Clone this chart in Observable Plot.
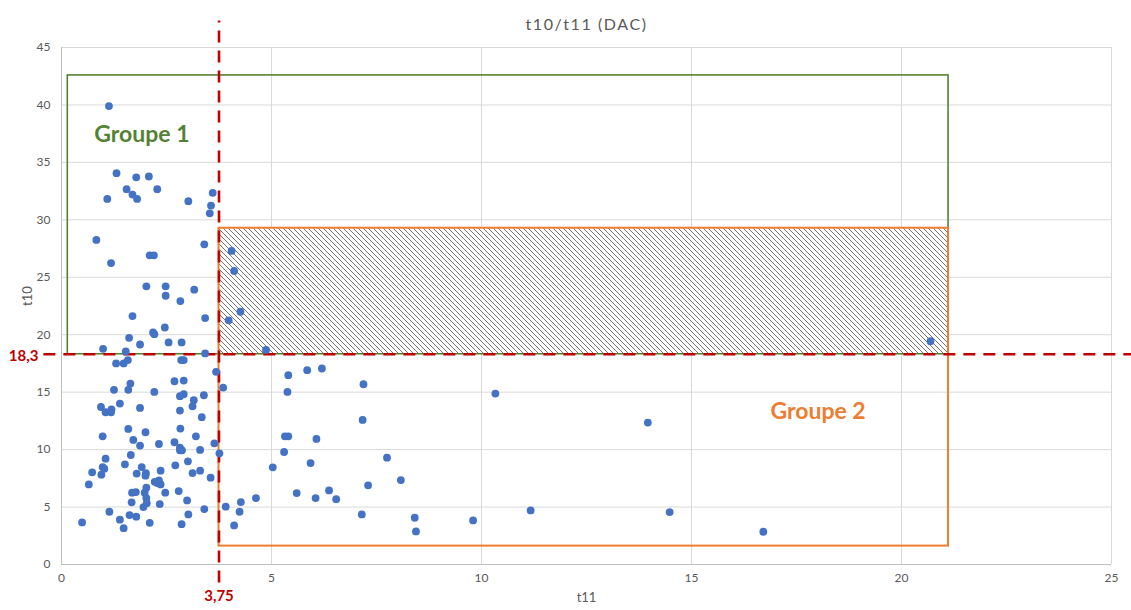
<!DOCTYPE html>
<html><head><meta charset="utf-8">
<script src="https://cdn.jsdelivr.net/npm/d3@7"></script>
<script src="https://cdn.jsdelivr.net/npm/@observablehq/plot@0.6"></script>
<style>html,body{margin:0;padding:0;background:#fff}svg{display:block}</style>
</head><body><div id="chart"></div>
<script>
// t11 (x) and t10 (y) values
const t11 = [
 1.13,1.31,1.78,2.08,1.55,2.28,1.69,1.80,1.09,3.02,3.60,3.56,3.53,0.83,3.40,2.10,2.20,1.18,4.05,4.11,
 2.02,2.48,2.48,3.16,2.83,1.69,3.42,4.26,3.98,2.18,2.21,2.46,1.61,1.87,2.55,2.86,0.99,1.53,3.42,1.30,
 1.48,1.58,2.85,2.91,3.68,3.85,1.64,1.59,1.25,2.21,2.69,2.91,2.82,2.91,3.39,3.15,3.12,2.82,3.34,1.39,
 0.94,1.05,1.18,1.19,1.87,
 1.59,2.00,0.98,2.83,3.20,1.71,1.87,2.32,2.69,2.82,2.87,2.82,3.64,3.30,3.76,1.65,1.05,3.01,1.51,2.71,
 1.91,0.98,1.02,0.73,0.95,1.79,2.01,2.00,2.36,3.12,3.30,3.55,0.65,2.22,2.32,2.36,2.28,2.02,1.98,1.68,
 1.77,2.47,2.79,2.02,1.67,2.99,2.03,1.95,2.34,1.14,3.40,1.62,1.78,3.02,1.39,0.49,1.48,2.10,2.86,3.91,
 4.27,4.24,4.11,
 4.87,5.40,5.85,6.20,
 5.38,7.19,10.33,7.17,5.32,5.40,6.07,5.30,7.75,5.93,5.03,8.08,7.30,5.60,6.37,6.05,6.54,4.63,7.15,8.41,
 8.44,9.80,11.17,
 13.96,14.48,16.71,20.69
];
const t10 = [
 39.90,34.06,33.70,33.77,32.67,32.67,32.20,31.82,31.82,31.62,32.35,31.24,30.57,28.25,27.87,26.91,26.91,26.24,27.29,25.55,
 24.21,24.21,23.39,23.92,22.93,21.62,21.45,22.00,21.25,20.20,20.05,20.63,19.73,19.15,19.33,19.33,18.77,18.54,18.37,17.50,
 17.50,17.79,17.79,17.79,16.77,15.40,15.75,15.20,15.20,15.02,15.95,16.01,14.65,14.82,14.73,14.30,13.77,13.40,12.82,14.01,
 13.71,13.25,13.25,13.49,13.63,
 11.80,11.51,11.16,11.83,11.16,10.84,10.35,10.49,10.64,10.17,9.94,9.94,10.55,9.97,9.68,9.53,9.21,8.98,8.72,8.63,
 8.48,8.48,8.34,8.02,7.82,7.91,7.96,7.73,8.17,7.96,8.17,7.56,6.97,7.20,7.32,6.97,7.09,6.69,6.25,6.25,
 6.30,6.25,6.39,5.78,5.41,5.58,5.34,5.00,5.26,4.59,4.82,4.30,4.16,4.36,3.90,3.66,3.16,3.63,3.51,5.03,
 5.43,4.59,3.40,
 18.68,16.48,16.91,17.06,
 15.02,15.69,14.88,12.58,11.16,11.16,10.93,9.79,9.30,8.83,8.46,7.35,6.89,6.22,6.45,5.78,5.69,5.78,4.36,4.07,
 2.88,3.84,4.71,
 12.35,4.56,2.85,19.44
];
const xTicks = [0, 5, 10, 15, 20, 25];
const yTicks = [0, 5, 10, 15, 20, 25, 30, 35, 40, 45];
const thresholdT11 = 3.75;
const thresholdT10 = 18.3;
const thresholdLabels = ["3,75", "18,3"];
const group1Box = [{x1: 0.15, x2: 21.12, y1: 18.3, y2: 42.57}];
const group2Box = [{x1: 3.75, x2: 21.12, y1: 1.6, y2: 29.27}];
const overlapBox = [{x1: 3.75, x2: 21.12, y1: 18.3, y2: 29.27}];
const groupLabels = [
  {text: "Groupe 1", x: 0.78, y: 37.4, color: "#548235"},
  {text: "Groupe 2", x: 16.88, y: 13.34, color: "#ED7D31"}
];
const vLineExtent = [{x: 3.75, y1: -1.6, y2: 47.3}];
const hLineExtent = [{y: 18.3, x1: -0.42, x2: 25.6}];
const title = "t10/t11 (DAC)";
const xLabel = "t11";
const yLabel = "t10";

const points = t11.map((x, i) => ({t11: x, t10: t10[i]}));
const red = "#C00000";

const chart = Plot.plot({
  width: 1131,
  height: 610,
  marginLeft: 61,
  marginRight: 20,
  marginTop: 47,
  marginBottom: 46,
  x: {domain: [0, 25]},
  y: {domain: [0, 45]},
  style: {fontFamily: "Lato, 'Open Sans', sans-serif", fontSize: "12px", color: "#595959", background: "#fff", overflow: "visible"},
  marks: [
    Plot.gridX(xTicks, {stroke: "#d9d9d9", strokeOpacity: 1}),
    Plot.gridY(yTicks, {stroke: "#d9d9d9", strokeOpacity: 1}),
    Plot.ruleX([0], {stroke: "#bfbfbf"}),
    Plot.ruleY([0], {stroke: "#bfbfbf"}),
    Plot.axisX(xTicks, {tickSize: 0, tickPadding: 9, label: null, fill: "#595959", fontSize: 12}),
    Plot.axisY(yTicks, {tickSize: 0, tickPadding: 11, label: null, fill: "#595959", fontSize: 12}),
    Plot.rect(overlapBox, {x1: "x1", x2: "x2", y1: "y1", y2: "y2", fill: "url(#hatch)"}),
    Plot.rect(group1Box, {x1: "x1", x2: "x2", y1: "y1", y2: "y2", fill: "none", stroke: "#548235", strokeWidth: 1.6}),
    Plot.rect(group2Box, {x1: "x1", x2: "x2", y1: "y1", y2: "y2", fill: "none", stroke: "#ED7D31", strokeWidth: 2}),
    Plot.ruleX(vLineExtent, {x: "x", y1: "y1", y2: "y2", stroke: red, strokeWidth: 2.6, strokeDasharray: "12,8"}),
    Plot.ruleY(hLineExtent, {y: "y", x1: "x1", x2: "x2", stroke: red, strokeWidth: 2.6, strokeDasharray: "12,8"}),
    Plot.dot(points, {x: "t11", y: "t10", r: 3.9, fill: "#4472C4", stroke: "none"}),
    Plot.text(groupLabels, {x: "x", y: "y", text: "text", fill: "color", fontSize: 23, fontWeight: "bold", textAnchor: "start"}),
    Plot.text([thresholdLabels[1]], {x: -0.55, y: thresholdT10, dy: 2, text: d => d, fill: red, fontSize: 15, fontWeight: "bold", textAnchor: "end"}),
    Plot.text([thresholdLabels[0]], {x: thresholdT11, y: -2.75, text: d => d, fill: red, fontSize: 15, fontWeight: "bold"}),
    Plot.text([title], {frameAnchor: "top", dy: -29, text: d => d, fill: "#595959", fontSize: 16}),
    Plot.text([xLabel], {frameAnchor: "bottom", dy: 37, text: d => d, fill: "#595959", fontSize: 13}),
    Plot.text([yLabel], {frameAnchor: "left", dx: -34, rotate: -90, text: d => d, fill: "#595959", fontSize: 13})
  ]
});

d3.select(chart).insert("defs", ":first-child").html(
  '<pattern id="hatch" patternUnits="userSpaceOnUse" width="5" height="5">' +
  '<rect width="5" height="5" fill="#fff"/>' +
  '<path d="M-1,-1L6,6M4,-1L6,1M-1,4L1,6" stroke="#5a5a5a" stroke-width="0.85"/></pattern>'
);
d3.select(chart).selectAll("text").filter(function() { return this.textContent === title; })
  .attr("letter-spacing", "1.6px");
document.getElementById("chart").appendChild(chart);
</script>
</body></html>
